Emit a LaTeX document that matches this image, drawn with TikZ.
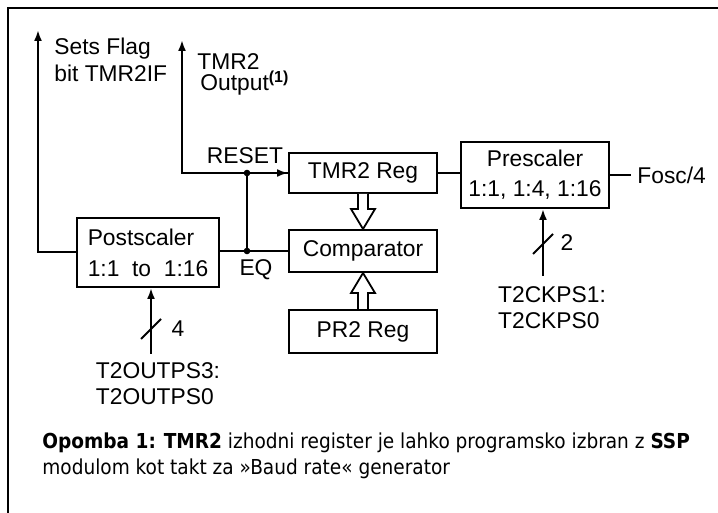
\documentclass[tikz,border=0pt]{standalone}
\usepackage{fontspec}
\setmainfont{Liberation Sans}
\newfontfamily\notefont{DejaVu Sans Condensed}
\usetikzlibrary{arrows.meta,calc,positioning}

\tikzset{
  regbox/.style={draw, line width=1pt, minimum width=74pt, inner sep=0pt},
  wire/.style={line width=1pt},
  sig/.style={wire, -{Latex[length=5.5pt,width=4pt]}},
  fat/.style={line width=0.9pt, line join=miter, fill=white},
  lbl/.style={inner sep=0pt, align=left, font=\fontsize{11.4}{13.2}\selectfont},
}

\begin{document}
\begin{tikzpicture}[x=0.5pt, y=-0.5pt, font=\fontsize{11.4}{13.5}\selectfont]
\useasboundingbox (0,0) rectangle (718,513);
\draw[line width=1.4pt] (718,8) -- (8,8) -- (8,513);

\node[regbox, minimum height=20pt] (tmr) at (363,173) {TMR2 Reg};
\node[regbox, minimum height=21pt] (cmp) at (363,251) {Comparator};
\node[regbox, minimum height=21.5pt] (pr2) at (363,331.5) {PR2 Reg};
\node[regbox, minimum height=33pt, align=center,
      font=\fontsize{11.4}{15}\selectfont] (pre) at (535,175) {Prescaler\\1:1, 1:4, 1:16};
\node[regbox, minimum width=71pt, minimum height=34.5pt, align=left,
      font=\fontsize{11.4}{15.5}\selectfont] (post) at (148,252.5) {Postscaler\\1:1\ \ to\ \ 1:16};

\coordinate (rst) at ($(tmr.west)+(-41,0)$);
\coordinate (eq) at (rst |- cmp.west);
\coordinate (out) at (182,40);
\coordinate (flag) at (38,30);
\coordinate (ckin) at ($(pre.south)+(8,67)$);
\coordinate (psin) at ($(post.south)+(3,66)$);

\node[lbl, anchor=north west] (flaglbl) at (54,38) {Sets Flag\\bit TMR2IF};
\node[lbl, anchor=north west, font=\fontsize{11.4}{10.8}\selectfont] (outlbl) at (197,53)
  {TMR2\\\hspace*{1.5pt}Output\textsuperscript{\textbf{(1)}}};
\node[lbl] (rstlbl) at (245,156) {RESET};
\node[lbl] (eqlbl) at (256,270) {EQ};
\node[lbl, anchor=west, inner sep=3pt] (fosc) at (631,175) {Fosc/4};
\node[lbl] (ckw) at ($(ckin)+(24,-33)$) {2};
\node[lbl] (psw) at ($(psin)+(27,-25)$) {4};
\node[lbl, below=5pt of ckin, xshift=4.5pt] (cksel) {T2CKPS1:\\T2CKPS0};
\node[lbl, below=4pt of psin, xshift=3.5pt] (pssel) {T2OUTPS3:\\T2OUTPS0};

\draw[sig] (tmr.west) -- (out |- tmr.west) -- (out);
\draw[sig] (rst) -- (tmr.west);
\draw[wire] (post.east |- cmp.west) -- (cmp.west);
\draw[wire] (rst) -- (eq);
\fill (rst) circle (3.3);
\fill (eq) circle (3.3);
\draw[sig] (post.west) -- (flag |- post.west) -- (flag);
\draw[wire] (tmr.east) -- (tmr.east -| pre.west);
\draw[wire] (pre.east) -- (fosc.west);

\draw[sig] (ckin) -- (ckin |- pre.south);
\draw[wire] ($(ckin)+(-10,-22)$) -- ++(20,-20);
\draw[sig] (psin) -- (psin |- post.south);
\draw[wire] ($(psin)+(-10,-15)$) -- ++(20,-20);

\draw[fat] ($(tmr.south)+(-5,0)$) -- ($(cmp.north)+(-5,-20)$) -- ($(cmp.north)+(-12,-20)$)
  -- (cmp.north) -- ($(cmp.north)+(12,-20)$) -- ($(cmp.north)+(5,-20)$) -- ($(tmr.south)+(5,0)$);
\draw[fat] ($(pr2.north)+(-5,0)$) -- ($(cmp.south)+(-5,20)$) -- ($(cmp.south)+(-12,20)$)
  -- (cmp.south) -- ($(cmp.south)+(12,20)$) -- ($(cmp.south)+(5,20)$) -- ($(pr2.north)+(5,0)$);

\node[anchor=north west, inner sep=0pt, align=left,
      font=\notefont\fontsize{10.3}{13}\selectfont] (note) at (42,432)
  {\textbf{Opomba 1:} \textbf{TMR2} izhodni register je lahko programsko izbran z \textbf{SSP}\\
   modulom kot takt za »Baud rate« generator};
\end{tikzpicture}
\end{document}
